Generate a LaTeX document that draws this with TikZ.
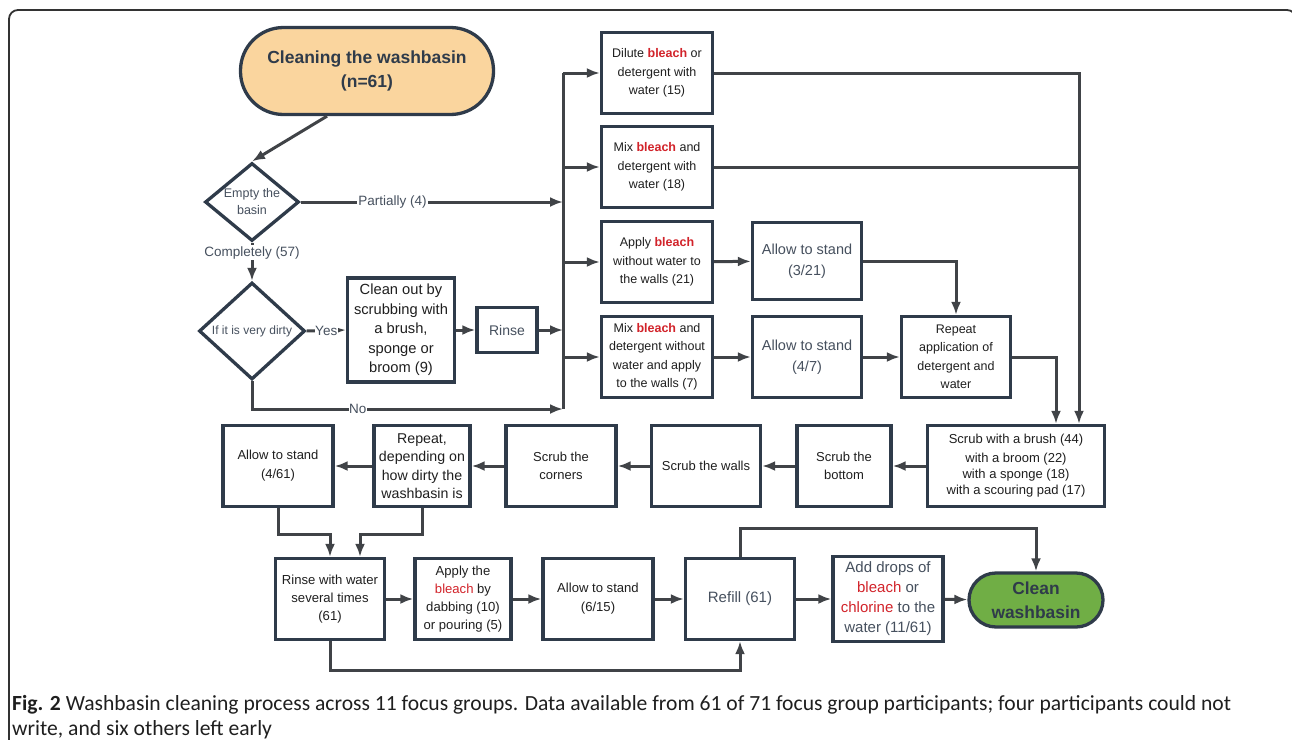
\documentclass[tikz,border=0pt]{standalone}
\usepackage{fontspec}
\setmainfont{Liberation Sans}
\newfontfamily\capfont{Carlito}
\usetikzlibrary{arrows.meta,shapes.geometric}
\definecolor{WBNavy}{HTML}{2F3B4A}
\definecolor{WBLine}{HTML}{404347}
\definecolor{WBText}{HTML}{1F1F1F}
\definecolor{WBGray}{HTML}{46505E}
\definecolor{WBRed}{HTML}{D2232A}
\definecolor{WBPeach}{HTML}{FAD59E}
\definecolor{WBGreen}{HTML}{70AE45}
\newcommand{\blb}{\textcolor{WBRed}{\textbf{bleach}}}
\newcommand{\blr}{\textcolor{WBRed}{bleach}}

\begin{document}
\begin{tikzpicture}[x=1pt,y=-1pt,
    box/.style={draw=WBNavy,line width=3.3pt,fill=white,inner sep=0pt,align=center,
      minimum width=109pt,minimum height=81pt,text=WBText,font=\fontsize{12.5}{18.5}\selectfont},
    pale/.style={text=WBGray,font=\fontsize{14.5}{21}\selectfont},
    pill/.style={draw=WBNavy,line width=3.3pt,rounded corners=#1,inner sep=0pt,align=center,
      text=WBNavy,font=\bfseries\fontsize{17.5}{23.5}\selectfont},
    choice/.style={draw=WBNavy,line width=3.3pt,diamond,inner sep=-8pt,align=center,
      text=WBGray,fill=white},
    lbl/.style={fill=white,inner sep=1pt,text=WBGray,font=\fontsize{13.5}{15}\selectfont},
    link/.style={line width=3pt,color=WBLine},
    arrow/.style={-{Latex[length=13pt,width=10pt]},line width=3pt,color=WBLine}
  ]
  \useasboundingbox (0,0) rectangle (1292,739);
  \draw[line width=1.8pt,color=black!80,rounded corners=9pt] (9,760) |- (1296,10) -- (1296,760);

  \node[pill=43pt,fill=WBPeach,minimum width=253pt,minimum height=87pt] (start) at (367,71)
    {Cleaning the washbasin\\(n=61)};
  \node[choice,minimum width=94pt,minimum height=78pt,font=\fontsize{12.5}{17}\selectfont] (empty) at (252,202)
    {Empty the\\basin};
  \node[choice,minimum width=106pt,minimum height=97pt,font=\fontsize{12}{14}\selectfont] (dirty) at (252,331)
    {If it is very dirty};
  \node[box,minimum width=107pt,minimum height=104pt,font=\fontsize{14.7}{19.5}\selectfont] (cleanout) at (401,330)
    {Clean out by\\scrubbing with\\a brush,\\sponge or\\broom (9)};
  \node[box,pale,minimum width=60pt,minimum height=45pt,font=\fontsize{14}{16}\selectfont] (rinse) at (507,330) {Rinse};

  \node[box,minimum width=111pt] (dilute) at (657,73) {Dilute \blb{} or\\detergent with\\water (15)};
  \node[box,minimum width=111pt] (mixw) at (657,167) {Mix \blb{} and\\detergent with\\water (18)};
  \node[box,minimum width=111pt] (apply) at (657,262) {Apply \blb\\without water to\\the walls (21)};
  \node[box,minimum width=111pt] (mixwo) at (657,357) {Mix \blb{} and\\detergent without\\water and apply\\to the walls (7)};
  \node[box,pale,minimum height=77pt] (standa) at (807,261) {Allow to stand\\(3/21)};
  \node[box,pale] (standb) at (807,357) {Allow to stand\\(4/7)};
  \node[box] (repeatapp) at (956,357) {Repeat\\application of\\detergent and\\water};

  \node[box,minimum width=177pt,font=\fontsize{13}{16}\selectfont] (scrub) at (1016,466)
    {Scrub with a brush (44)\\[3pt]with a broom (22)\\with a sponge (18)\\with a scouring pad (17)};
  \node[box,minimum width=94pt,font=\fontsize{13}{18.5}\selectfont] (bottom) at (844,466) {Scrub the\\bottom};
  \node[box,font=\fontsize{13}{18.5}\selectfont] (walls) at (706,466) {Scrub the walls};
  \node[box,minimum width=110pt,font=\fontsize{13}{18.5}\selectfont] (corners) at (561,466) {Scrub the\\corners};
  \node[box,minimum width=96pt,font=\fontsize{14.2}{18.5}\selectfont] (repeatd) at (422,466)
    {Repeat,\\depending on\\how dirty the\\washbasin is};
  \node[box,minimum width=110pt,font=\fontsize{13}{19}\selectfont] (standc) at (278,466) {Allow to stand\\(4/61)};

  \node[box,font=\fontsize{13.1}{18}\selectfont] (rinsew) at (330,599) {Rinse with water\\several times\\(61)};
  \node[box,minimum width=96pt,font=\fontsize{13.1}{18}\selectfont] (applyb) at (463,599)
    {Apply the\\\blr{} by\\dabbing (10)\\or pouring (5)};
  \node[box,minimum width=110pt,font=\fontsize{13.1}{19}\selectfont] (standd) at (598,599) {Allow to stand\\(6/15)};
  \node[box,pale,font=\fontsize{15}{18}\selectfont] (refill) at (740,599) {Refill (61)};
  \node[box,pale,minimum width=110pt,minimum height=85pt,font=\fontsize{15}{20}\selectfont] (drops) at (888,599)
    {Add drops of\\\blr{} or\\\textcolor{WBRed}{chlorine} to the\\water (11/61)};
  \node[pill=27pt,fill=WBGreen,minimum width=134pt,minimum height=54pt,font=\bfseries\fontsize{17.4}{24}\selectfont] (clean) at (1036,600)
    {Clean\\washbasin};

  \coordinate (bustop) at (563,73);
  \coordinate (busend) at (563,409);
  \coordinate (drop) at (1079,0);

  \draw[arrow] ([xshift=-40pt]start.south) -- (empty.north);
  \draw[arrow] (empty.east) -- node[lbl,pos=0.35]{Partially (4)} (empty.east -| bustop);
  \draw[arrow] (empty.south) -- node[lbl,pos=0.26]{Completely (57)} (dirty.north);
  \draw[arrow] (dirty.east) -- node[lbl,inner sep=0.5pt]{Yes} (cleanout.west);
  \draw[arrow] (cleanout) -- (rinse);
  \draw[arrow] (rinse.east) -- (rinse.east -| bustop);
  \draw[arrow] (dirty.south) |- node[lbl,pos=0.67,inner sep=0.5pt]{No} (busend);
  \draw[link] (bustop) -- (busend);
  \foreach \n in {dilute,mixw,apply,mixwo}
    \draw[arrow] (\n.west -| bustop) -- (\n.west);

  \draw[arrow] (apply) -- (standa);
  \draw[arrow] (mixwo) -- (standb);
  \draw[arrow] (standb) -- (repeatapp);
  \draw[arrow] (standa.east) -| (repeatapp.north);
  \draw[arrow] (repeatapp.east) -| ([xshift=40pt]scrub.north);
  \draw[arrow] (dilute.east) -| (scrub.north -| drop);
  \draw[link] (mixw.east) -- (mixw.east -| drop);

  \foreach \a/\b in {scrub/bottom,bottom/walls,walls/corners,corners/repeatd,repeatd/standc}
    \draw[arrow] (\a) -- (\b);
  \draw[arrow] (standc.south) -- ++(0,26) -| (rinsew.north);
  \draw[arrow] (repeatd.south) -- ++(0,26) -| ([xshift=30pt]rinsew.north);

  \foreach \a/\b in {rinsew/applyb,applyb/standd,standd/refill,refill/drops,drops/clean}
    \draw[arrow] (\a) -- (\b);
  \draw[arrow] (rinsew.south) -- ++(0,29) -| (refill.south);
  \draw[arrow] (refill.north) -- ++(0,-28) -| (clean.north);

  \node[anchor=base west,inner sep=0pt,font=\capfont\fontsize{21.6}{24}\selectfont,text=WBText] (caption) at (12,710)
    {\textbf{Fig. 2} Washbasin cleaning process across 11 focus groups. Data available from 61 of 71 focus group participants; four participants could not};
  \node[anchor=base west,inner sep=0pt,font=\capfont\fontsize{21.6}{24}\selectfont,text=WBText] (caption2) at (12,735)
    {write, and six others left early};
\end{tikzpicture}
\end{document}
